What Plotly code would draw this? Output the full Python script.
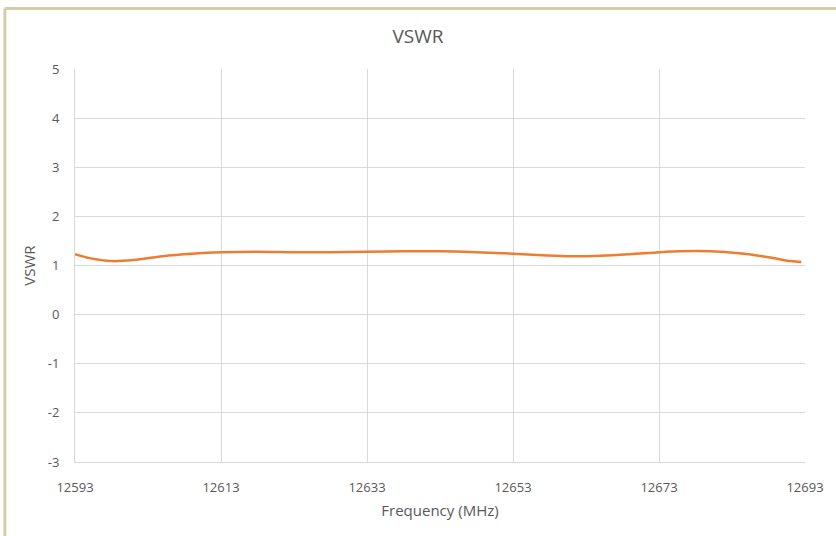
import plotly.graph_objects as go

freq_mhz = [12593, 12595, 12598, 12601, 12605, 12609, 12613, 12618, 12623, 12628, 12633, 12638, 12643, 12648, 12653, 12657, 12661, 12665, 12669, 12673, 12676, 12680, 12684, 12688, 12691, 12692.5]
vswr = [1.23, 1.15, 1.09, 1.11, 1.19, 1.24, 1.27, 1.28, 1.27, 1.27, 1.28, 1.29, 1.29, 1.27, 1.24, 1.21, 1.19, 1.20, 1.23, 1.27, 1.29, 1.29, 1.25, 1.17, 1.09, 1.07]
x_ticks = [12593, 12613, 12633, 12653, 12673, 12693]
y_ticks = [-3, -2, -1, 0, 1, 2, 3, 4, 5]
y_tick_labels = ["-3", "-2", "-1", "0", "1", "2", "3", "4", "5"]

W, H = 836, 536
L, R, T, B = 75, 27, 69, 74
pw, ph = W - L - R, H - T - B

fig = go.Figure()
fig.add_trace(go.Scatter(
    x=freq_mhz, y=vswr, mode="lines",
    line=dict(color="#ed7d31", width=2.5, shape="spline", smoothing=1.0),
    showlegend=False, hoverinfo="skip"))

font_fam = "Open Sans, Liberation Sans, sans-serif"
fig.update_layout(
    width=W, height=H,
    margin=dict(l=L, r=R, t=T, b=B),
    paper_bgcolor="white", plot_bgcolor="white",
    font=dict(family=font_fam, color="#595959", size=13),
    title=dict(text="VSWR", x=0.5, xanchor="center",
               y=1 - 36 / H, yanchor="middle",
               font=dict(size=19, color="#595959", family=font_fam)),
    xaxis=dict(range=[12593, 12693], tickvals=x_ticks, ticktext=[str(v) for v in x_ticks],
               showgrid=True, gridcolor="#d9d9d9", gridwidth=1, zeroline=False,
               showline=True, linecolor="#d9d9d9", linewidth=1,
               ticks="", ticklabelstandoff=13, tickfont=dict(size=13, color="#595959"),
               title=dict(text="Frequency (MHz)", font=dict(size=15, color="#595959"), standoff=10)),
    yaxis=dict(range=[-3, 5], tickvals=y_ticks, ticktext=y_tick_labels,
               showgrid=True, gridcolor="#d9d9d9", gridwidth=1,
               zeroline=False, showline=True, linecolor="#d9d9d9", linewidth=1,
               ticks="", ticklabelstandoff=12, tickfont=dict(size=13, color="#595959"),
               title=dict(text="VSWR", font=dict(size=15, color="#595959"), standoff=8)),
)

# Outer chart border (tan), top and left edges visible
x0 = (4.5 - L) / pw
y1 = 1 + (T - 8.5) / ph
fig.add_shape(type="line", xref="paper", yref="paper", x0=x0, x1=(W + 10 - L) / pw, y0=y1, y1=y1,
              line=dict(color="#d3cda9", width=3), layer="above")
fig.add_shape(type="line", xref="paper", yref="paper", x0=x0, x1=x0, y0=y1, y1=-(B + 10) / ph,
              line=dict(color="#d3cda9", width=3), layer="above")

fig.write_html("out.html", config={"displayModeBar": False},
               post_script="document.body.style.margin='0px';")
